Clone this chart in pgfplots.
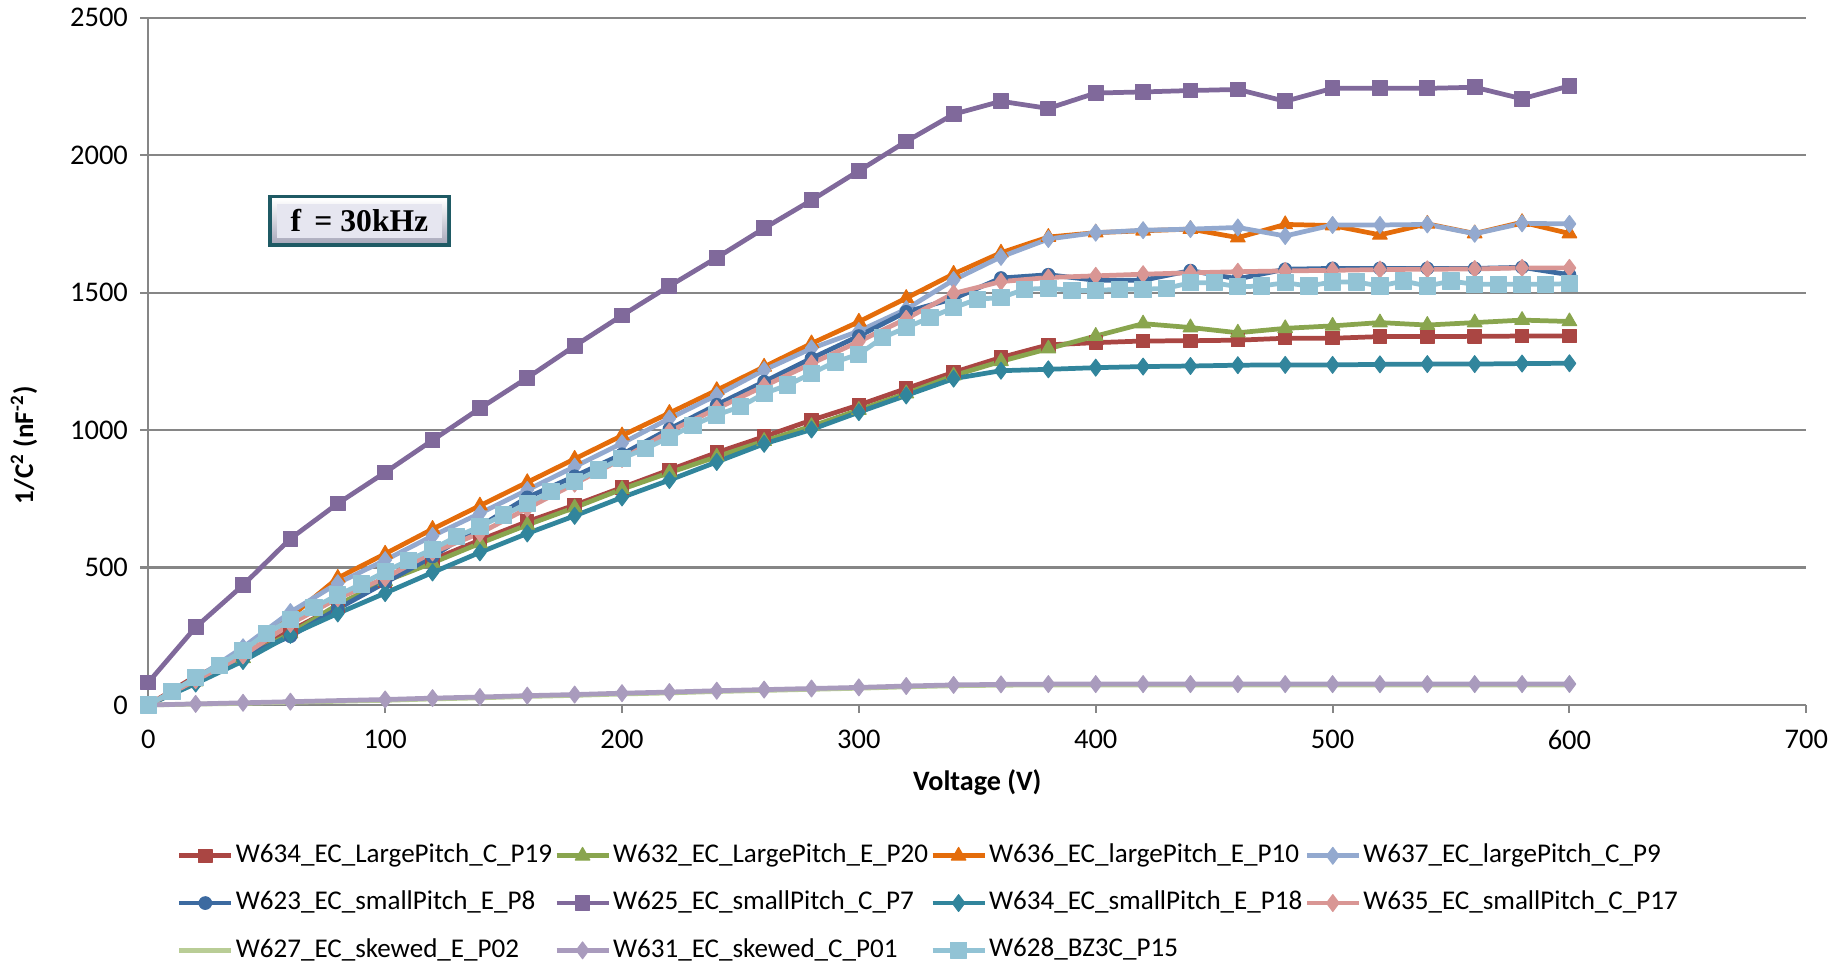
\documentclass[border=0pt]{standalone}
\usepackage{pgfplots}
\pgfplotsset{compat=1.18}
\usepackage{fontspec}
\setmainfont{Carlito}
\newfontfamily\timesfont{Liberation Serif}
\definecolor{cRedL}{HTML}{AA4643}
\definecolor{cGreenL}{HTML}{89A54E}
\definecolor{cOrange}{HTML}{E46C0A}
\definecolor{cLBlue}{HTML}{93A9CF}
\definecolor{cDBlue}{HTML}{3C6AA0}
\definecolor{cPurple}{HTML}{80699B}
\definecolor{cTeal}{HTML}{31859C}
\definecolor{cPink}{HTML}{D99694}
\definecolor{cLGreen}{HTML}{B9CD96}
\definecolor{cLPurple}{HTML}{A99BBD}
\definecolor{cCyan}{HTML}{92C3D5}
\definecolor{gridgray}{HTML}{868686}
\definecolor{boxedge}{HTML}{1F5A64}
\definecolor{boxface}{HTML}{E6E6F0}
\definecolor{boxshade}{HTML}{A9A9BB}
\begin{document}
\begin{tikzpicture}
\useasboundingbox (0,0) rectangle (18.46,9.64);
\begin{axis}[
  at={(1.483cm,2.59cm)}, anchor=south west,
  width=16.58cm, height=6.873cm, scale only axis,
  xmin=0, xmax=700, ymin=0, ymax=2500,
  xtick={0,100,...,700}, ytick={0,500,...,2500},
  axis x line=bottom, axis y line=left,
  axis line style={gridgray, line width=0.6pt, -},
  x axis line style={-}, y axis line style={-},
  tick align=outside, major tick length=0.8mm,
  tick style={gridgray, line width=0.6pt},
  ymajorgrids, grid style={gridgray, line width=0.6pt},
  /pgf/number format/assume math mode=true,
  /pgf/number format/set thousands separator={},
  ticklabel style={font=\fontsize{8.1}{10}\selectfont, black},
  xticklabel style={yshift=-1.3pt},
  xlabel={\textbf{Voltage (V)}},
  ylabel={\textbf{1/C\textsuperscript{2} (nF\textsuperscript{-2})}},
  xlabel style={at={(axis description cs:0.5,-0.112)}, anchor=center, font=\fontsize{8}{10}\selectfont},
  ylabel style={at={(axis description cs:-0.075,0.378)}, anchor=center, rotate=0, font=\fontsize{7.7}{10}\selectfont},
  legend columns=4,
  legend cell align=left,
  legend style={at={(axis description cs:0.0105,-0.183)}, anchor=north west, draw=none, fill=none,
    font=\fontsize{7.7}{9}\selectfont, row sep=3.6pt, column sep=0pt,
    nodes={inner xsep=0.6pt, inner ysep=1.5pt},
    /tikz/every even column/.append style={column sep=0pt}},
  legend image code/.code={\draw[mark repeat=2,mark phase=2] plot coordinates {(0cm,0cm) (0.26cm,0cm) (0.52cm,0cm)};},
  every axis plot/.append style={line width=1.35pt, line join=round},
  clip=false,
]
% W634_EC_LargePitch_C_P19
\addplot[color=cRedL, mark=square*, mark size=1.9pt, mark options={solid, fill=cRedL, line width=0.3pt}] table {
0 0
20 105
40 180
60 270
80 360
100 450
120 528
140 600
160 667
180 727
200 791
220 855
240 918
260 976
280 1036
300 1091
320 1151
340 1210
360 1264
380 1310
400 1318
420 1324
440 1325
460 1327
480 1334
500 1334
520 1340
540 1340
560 1341
580 1342
600 1342
};
\addlegendentry{W634\_EC\_LargePitch\_C\_P19}
% W632_EC_LargePitch_E_P20
\addplot[color=cGreenL, mark=triangle*, mark size=2.4pt, mark options={solid, fill=cGreenL, line width=0.3pt}] table {
0 0
20 85
40 170
60 260
80 365
100 450
120 517
140 588
160 655
180 718
200 785
220 845
240 903
260 960
280 1014
300 1073
320 1133
340 1198
360 1250
380 1296
400 1342
420 1387
440 1373
460 1354
480 1370
500 1379
520 1391
540 1382
560 1391
580 1400
600 1395
};
\addlegendentry{W632\_EC\_LargePitch\_E\_P20}
% W636_EC_largePitch_E_P10
\addplot[color=cOrange, mark=triangle*, mark size=2.4pt, mark options={solid, fill=cOrange, line width=0.3pt}] table {
0 0
20 95
40 200
60 320
80 462
100 550
120 640
140 725
160 810
180 895
200 980
220 1062
240 1145
260 1230
280 1315
300 1394
320 1480
340 1568
360 1645
380 1702
400 1718
420 1725
440 1731
460 1700
480 1748
500 1744
520 1710
540 1750
560 1715
580 1756
600 1715
};
\addlegendentry{W636\_EC\_largePitch\_E\_P10}
% W637_EC_largePitch_C_P9
\addplot[color=cLBlue, mark=diamond*, mark size=2.4pt, mark options={solid, fill=cLBlue, line width=0.3pt}] table {
0 0
20 95
40 210
60 338
80 443
100 527
120 615
140 697
160 782
180 867
200 952
220 1042
240 1127
260 1218
280 1297
300 1360
320 1440
340 1546
360 1630
380 1695
400 1718
420 1727
440 1731
460 1737
480 1706
500 1746
520 1746
540 1748
560 1714
580 1752
600 1750
};
\addlegendentry{W637\_EC\_largePitch\_C\_P9}
% W623_EC_smallPitch_E_P8
\addplot[color=cDBlue, mark=*, mark size=1.8pt, mark options={solid, fill=cDBlue, line width=0.3pt}] table {
0 0
20 85
40 175
60 250
80 350
100 445
120 540
140 650
160 755
180 832
200 912
220 1004
240 1092
260 1176
280 1261
300 1342
320 1430
340 1478
360 1553
380 1565
400 1545
420 1545
440 1580
460 1550
480 1585
500 1588
520 1588
540 1588
560 1588
580 1592
600 1565
};
\addlegendentry{W623\_EC\_smallPitch\_E\_P8}
% W625_EC_smallPitch_C_P7
\addplot[color=cPurple, mark=square*, mark size=2.1pt, mark options={solid, fill=cPurple, line width=0.3pt}] table {
0 82
20 283
40 436
60 605
80 733
100 846
120 963
140 1079
160 1190
180 1306
200 1417
220 1524
240 1627
260 1734
280 1836
300 1943
320 2050
340 2149
360 2196
380 2170
400 2226
420 2230
440 2235
460 2239
480 2196
500 2243
520 2243
540 2243
560 2247
580 2205
600 2252
};
\addlegendentry{W625\_EC\_smallPitch\_C\_P7}
% W634_EC_smallPitch_E_P18
\addplot[color=cTeal, mark=diamond*, mark size=2.4pt, mark options={solid, fill=cTeal, line width=0.3pt}] table {
0 0
20 78
40 160
60 255
80 333
100 407
120 482
140 555
160 624
180 688
200 755
220 818
240 884
260 950
280 1002
300 1065
320 1126
340 1187
360 1216
380 1221
400 1227
420 1231
440 1233
460 1236
480 1237
500 1237
520 1239
540 1240
560 1240
580 1242
600 1243
};
\addlegendentry{W634\_EC\_smallPitch\_E\_P18}
% W635_EC_smallPitch_C_P17
\addplot[color=cPink, mark=diamond*, mark size=2.4pt, mark options={solid, fill=cPink, line width=0.3pt}] table {
0 0
20 90
40 180
60 295
80 388
100 462
120 555
140 625
160 715
180 805
200 895
220 995
240 1078
260 1160
280 1242
300 1322
320 1405
340 1497
360 1540
380 1555
400 1561
420 1567
440 1572
460 1576
480 1579
500 1581
520 1584
540 1585
560 1586
580 1590
600 1590
};
\addlegendentry{W635\_EC\_smallPitch\_C\_P17}
% W627_EC_skewed_E_P02
\addplot[color=cLGreen, no markers] table {
0 0
20 3
40 6
60 10
100 17
120 22
140 26
160 31
180 35
200 40
220 44
240 49
260 53
280 57
300 61
320 66
340 70
360 72
380 73
400 73
420 73
440 73
460 73
480 73
500 73
520 73
540 73
560 73
580 73
600 73
};
\addlegendentry{W627\_EC\_skewed\_E\_P02}
% W631_EC_skewed_C_P01
\addplot[color=cLPurple, mark=diamond*, mark size=2.4pt, mark options={solid, fill=cLPurple, line width=0.3pt}] table {
0 0
20 4
40 8
60 12
100 20
120 25
140 29
160 34
180 38
200 43
220 47
240 52
260 56
280 60
300 64
320 69
340 73
360 75
380 76
400 76
420 76
440 76
460 76
480 76
500 76
520 76
540 76
560 76
580 76
600 76
};
\addlegendentry{W631\_EC\_skewed\_C\_P01}
% W628_BZ3C_P15
\addplot[color=cCyan, mark=square*, mark size=2.3pt, mark options={solid, fill=cCyan, line width=0.3pt}] table {
0 0
10 48
20 100
30 145
40 198
50 261
60 310
70 356
80 400
90 440
100 485
110 527
120 567
130 612
140 649
150 691
160 733
170 776
180 812
190 855
200 897
210 933
220 973
230 1018
240 1055
250 1085
260 1133
270 1164
280 1206
290 1248
300 1276
310 1336
320 1373
330 1409
340 1445
350 1476
360 1482
370 1512
380 1516
390 1508
400 1508
410 1512
420 1512
430 1516
440 1536
450 1536
460 1521
470 1524
480 1536
490 1524
500 1539
510 1539
520 1524
530 1542
540 1524
550 1542
560 1530
570 1530
580 1530
590 1530
600 1533
};
\addlegendentry{W628\_BZ3C\_P15}
\end{axis}
% f = 30kHz label box
\fill[boxedge] (2.68,7.69) rectangle (4.51,7.17);
\shade[top color=white, bottom color=boxshade] (2.72,7.65) rectangle (4.47,7.21);
\fill[boxface] (2.77,7.60) rectangle (4.42,7.26);
\node[font=\timesfont\bfseries\fontsize{9}{11}\selectfont] at (3.595,7.43) {f\, = 30kHz};
\end{tikzpicture}
\end{document}
